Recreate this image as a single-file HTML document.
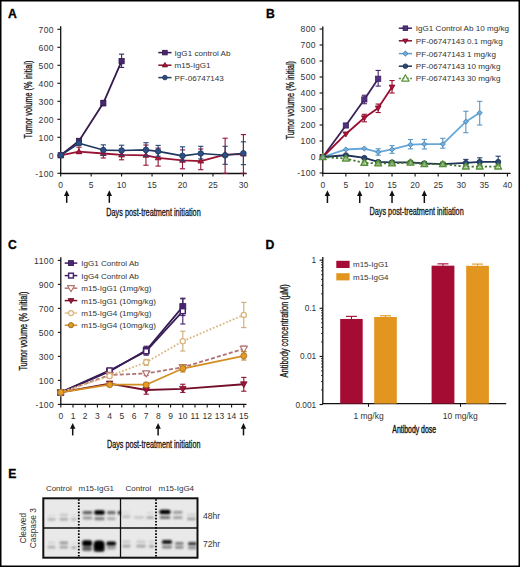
<!DOCTYPE html>
<html><head><meta charset="utf-8"><style>
html,body{margin:0;padding:0;background:#fff;}
body{width:520px;height:567px;overflow:hidden;font-family:"Liberation Sans", sans-serif;}
svg{display:block;}
</style></head><body>
<svg width="520" height="567" viewBox="0 0 520 567" font-family='"Liberation Sans", sans-serif'><text x="7.90" y="17.60" font-size="12.2" text-anchor="start" fill="#000" font-weight="bold" stroke="#000" stroke-width="0.3">A</text>
<line x1="60.70" y1="26.20" x2="60.70" y2="174.10" stroke="#111" stroke-width="1.3" />
<line x1="60.10" y1="173.50" x2="246.70" y2="173.50" stroke="#111" stroke-width="1.3" />
<line x1="57.40" y1="173.30" x2="60.70" y2="173.30" stroke="#111" stroke-width="1.1" />
<text x="54.00" y="176.60" font-size="8.6" text-anchor="end" fill="#333" font-weight="normal" letter-spacing="0.4">-100</text>
<line x1="57.40" y1="155.30" x2="60.70" y2="155.30" stroke="#111" stroke-width="1.1" />
<text x="54.00" y="158.60" font-size="8.6" text-anchor="end" fill="#333" font-weight="normal" letter-spacing="0.4">0</text>
<line x1="57.40" y1="137.30" x2="60.70" y2="137.30" stroke="#111" stroke-width="1.1" />
<text x="54.00" y="140.60" font-size="8.6" text-anchor="end" fill="#333" font-weight="normal" letter-spacing="0.4">100</text>
<line x1="57.40" y1="119.30" x2="60.70" y2="119.30" stroke="#111" stroke-width="1.1" />
<text x="54.00" y="122.60" font-size="8.6" text-anchor="end" fill="#333" font-weight="normal" letter-spacing="0.4">200</text>
<line x1="57.40" y1="101.30" x2="60.70" y2="101.30" stroke="#111" stroke-width="1.1" />
<text x="54.00" y="104.60" font-size="8.6" text-anchor="end" fill="#333" font-weight="normal" letter-spacing="0.4">300</text>
<line x1="57.40" y1="83.30" x2="60.70" y2="83.30" stroke="#111" stroke-width="1.1" />
<text x="54.00" y="86.60" font-size="8.6" text-anchor="end" fill="#333" font-weight="normal" letter-spacing="0.4">400</text>
<line x1="57.40" y1="65.30" x2="60.70" y2="65.30" stroke="#111" stroke-width="1.1" />
<text x="54.00" y="68.60" font-size="8.6" text-anchor="end" fill="#333" font-weight="normal" letter-spacing="0.4">500</text>
<line x1="57.40" y1="47.30" x2="60.70" y2="47.30" stroke="#111" stroke-width="1.1" />
<text x="54.00" y="50.60" font-size="8.6" text-anchor="end" fill="#333" font-weight="normal" letter-spacing="0.4">600</text>
<line x1="57.40" y1="29.30" x2="60.70" y2="29.30" stroke="#111" stroke-width="1.1" />
<text x="54.00" y="32.60" font-size="8.6" text-anchor="end" fill="#333" font-weight="normal" letter-spacing="0.4">700</text>
<line x1="60.70" y1="173.50" x2="60.70" y2="176.60" stroke="#111" stroke-width="1.1" />
<text x="60.70" y="187.80" font-size="8.5" text-anchor="middle" fill="#333" font-weight="normal" >0</text>
<line x1="91.15" y1="173.50" x2="91.15" y2="176.60" stroke="#111" stroke-width="1.1" />
<text x="91.15" y="187.80" font-size="8.5" text-anchor="middle" fill="#333" font-weight="normal" >5</text>
<line x1="121.60" y1="173.50" x2="121.60" y2="176.60" stroke="#111" stroke-width="1.1" />
<text x="121.60" y="187.80" font-size="8.5" text-anchor="middle" fill="#333" font-weight="normal" >10</text>
<line x1="152.05" y1="173.50" x2="152.05" y2="176.60" stroke="#111" stroke-width="1.1" />
<text x="152.05" y="187.80" font-size="8.5" text-anchor="middle" fill="#333" font-weight="normal" >15</text>
<line x1="182.50" y1="173.50" x2="182.50" y2="176.60" stroke="#111" stroke-width="1.1" />
<text x="182.50" y="187.80" font-size="8.5" text-anchor="middle" fill="#333" font-weight="normal" >20</text>
<line x1="212.95" y1="173.50" x2="212.95" y2="176.60" stroke="#111" stroke-width="1.1" />
<text x="212.95" y="187.80" font-size="8.5" text-anchor="middle" fill="#333" font-weight="normal" >25</text>
<line x1="243.40" y1="173.50" x2="243.40" y2="176.60" stroke="#111" stroke-width="1.1" />
<text x="243.40" y="187.80" font-size="8.5" text-anchor="middle" fill="#333" font-weight="normal" >30</text>
<line x1="66.69" y1="194.30" x2="66.69" y2="202.80" stroke="#111" stroke-width="1.5" />
<path d="M66.69,190.30 L69.39,196.10 L63.99,196.10 Z" fill="#111"/>
<line x1="109.32" y1="194.30" x2="109.32" y2="202.80" stroke="#111" stroke-width="1.5" />
<path d="M109.32,190.30 L112.02,196.10 L106.62,196.10 Z" fill="#111"/>
<text x="106.30" y="215.50" font-size="10.3" text-anchor="start" fill="#111" font-weight="normal" textLength="94.4" lengthAdjust="spacingAndGlyphs" stroke="#1a1a1a" stroke-width="0.3">Days post-treatment initiation</text>
<text x="32.10" y="138.40" font-size="10.3" text-anchor="start" fill="#111" font-weight="normal" textLength="77.8" lengthAdjust="spacingAndGlyphs" transform="rotate(-90 32.10 138.40)" stroke="#1a1a1a" stroke-width="0.3">Tumor volume (% initial)</text>
<path d="M60.70,155.30 L78.97,140.90 L103.33,103.10 L121.60,61.16" fill="none" stroke="#351a50" stroke-width="1.8" stroke-linejoin="round"/>
<line x1="78.97" y1="143.60" x2="78.97" y2="138.74" stroke="#3e1f5f" stroke-width="1.1" />
<line x1="76.37" y1="138.74" x2="81.57" y2="138.74" stroke="#3e1f5f" stroke-width="1.1" />
<line x1="76.37" y1="143.60" x2="81.57" y2="143.60" stroke="#3e1f5f" stroke-width="1.1" />
<line x1="103.33" y1="105.80" x2="103.33" y2="100.40" stroke="#3e1f5f" stroke-width="1.1" />
<line x1="100.73" y1="100.40" x2="105.93" y2="100.40" stroke="#3e1f5f" stroke-width="1.1" />
<line x1="100.73" y1="105.80" x2="105.93" y2="105.80" stroke="#3e1f5f" stroke-width="1.1" />
<line x1="121.60" y1="67.46" x2="121.60" y2="54.14" stroke="#3e1f5f" stroke-width="1.1" />
<line x1="119.00" y1="54.14" x2="124.20" y2="54.14" stroke="#3e1f5f" stroke-width="1.1" />
<line x1="119.00" y1="67.46" x2="124.20" y2="67.46" stroke="#3e1f5f" stroke-width="1.1" />
<rect x="58.10" y="152.70" width="5.20" height="5.20" fill="#4a2570" stroke="#33194e" stroke-width="0.8"/>
<rect x="76.37" y="138.30" width="5.20" height="5.20" fill="#4a2570" stroke="#33194e" stroke-width="0.8"/>
<rect x="100.73" y="100.50" width="5.20" height="5.20" fill="#4a2570" stroke="#33194e" stroke-width="0.8"/>
<rect x="119.00" y="58.56" width="5.20" height="5.20" fill="#4a2570" stroke="#33194e" stroke-width="0.8"/>
<path d="M60.70,155.30 L78.97,151.70 L103.33,153.50 L121.60,154.94 L145.96,155.30 L158.14,157.82 L182.50,160.34 L200.77,161.06 L225.13,154.58 L243.40,154.04" fill="none" stroke="#9a1334" stroke-width="1.8" stroke-linejoin="round"/>
<line x1="78.97" y1="153.50" x2="78.97" y2="147.20" stroke="#951233" stroke-width="1.1" />
<line x1="76.37" y1="147.20" x2="81.57" y2="147.20" stroke="#951233" stroke-width="1.1" />
<line x1="76.37" y1="153.50" x2="81.57" y2="153.50" stroke="#951233" stroke-width="1.1" />
<line x1="103.33" y1="158.00" x2="103.33" y2="149.90" stroke="#951233" stroke-width="1.1" />
<line x1="100.73" y1="149.90" x2="105.93" y2="149.90" stroke="#951233" stroke-width="1.1" />
<line x1="100.73" y1="158.00" x2="105.93" y2="158.00" stroke="#951233" stroke-width="1.1" />
<line x1="121.60" y1="159.80" x2="121.60" y2="150.80" stroke="#951233" stroke-width="1.1" />
<line x1="119.00" y1="150.80" x2="124.20" y2="150.80" stroke="#951233" stroke-width="1.1" />
<line x1="119.00" y1="159.80" x2="124.20" y2="159.80" stroke="#951233" stroke-width="1.1" />
<line x1="145.96" y1="165.20" x2="145.96" y2="145.04" stroke="#951233" stroke-width="1.1" />
<line x1="143.36" y1="145.04" x2="148.56" y2="145.04" stroke="#951233" stroke-width="1.1" />
<line x1="143.36" y1="165.20" x2="148.56" y2="165.20" stroke="#951233" stroke-width="1.1" />
<line x1="158.14" y1="166.10" x2="158.14" y2="148.10" stroke="#951233" stroke-width="1.1" />
<line x1="155.54" y1="148.10" x2="160.74" y2="148.10" stroke="#951233" stroke-width="1.1" />
<line x1="155.54" y1="166.10" x2="160.74" y2="166.10" stroke="#951233" stroke-width="1.1" />
<line x1="182.50" y1="168.80" x2="182.50" y2="149.90" stroke="#951233" stroke-width="1.1" />
<line x1="179.90" y1="149.90" x2="185.10" y2="149.90" stroke="#951233" stroke-width="1.1" />
<line x1="179.90" y1="168.80" x2="185.10" y2="168.80" stroke="#951233" stroke-width="1.1" />
<line x1="200.77" y1="169.70" x2="200.77" y2="149.00" stroke="#951233" stroke-width="1.1" />
<line x1="198.17" y1="149.00" x2="203.37" y2="149.00" stroke="#951233" stroke-width="1.1" />
<line x1="198.17" y1="169.70" x2="203.37" y2="169.70" stroke="#951233" stroke-width="1.1" />
<line x1="225.13" y1="173.30" x2="225.13" y2="138.20" stroke="#951233" stroke-width="1.1" />
<line x1="222.53" y1="138.20" x2="227.73" y2="138.20" stroke="#951233" stroke-width="1.1" />
<line x1="222.53" y1="173.30" x2="227.73" y2="173.30" stroke="#951233" stroke-width="1.1" />
<line x1="243.40" y1="173.30" x2="243.40" y2="134.60" stroke="#951233" stroke-width="1.1" />
<line x1="240.80" y1="134.60" x2="246.00" y2="134.60" stroke="#951233" stroke-width="1.1" />
<line x1="240.80" y1="173.30" x2="246.00" y2="173.30" stroke="#951233" stroke-width="1.1" />
<path d="M60.70,152.30 L63.60,157.30 L57.80,157.30 Z" fill="#b0163c" stroke="#7b0f2a" stroke-width="0.8" stroke-linejoin="round"/>
<path d="M78.97,148.70 L81.87,153.70 L76.07,153.70 Z" fill="#b0163c" stroke="#7b0f2a" stroke-width="0.8" stroke-linejoin="round"/>
<path d="M103.33,150.50 L106.23,155.50 L100.43,155.50 Z" fill="#b0163c" stroke="#7b0f2a" stroke-width="0.8" stroke-linejoin="round"/>
<path d="M121.60,151.94 L124.50,156.94 L118.70,156.94 Z" fill="#b0163c" stroke="#7b0f2a" stroke-width="0.8" stroke-linejoin="round"/>
<path d="M145.96,152.30 L148.86,157.30 L143.06,157.30 Z" fill="#b0163c" stroke="#7b0f2a" stroke-width="0.8" stroke-linejoin="round"/>
<path d="M158.14,154.82 L161.04,159.82 L155.24,159.82 Z" fill="#b0163c" stroke="#7b0f2a" stroke-width="0.8" stroke-linejoin="round"/>
<path d="M182.50,157.34 L185.40,162.34 L179.60,162.34 Z" fill="#b0163c" stroke="#7b0f2a" stroke-width="0.8" stroke-linejoin="round"/>
<path d="M200.77,158.06 L203.67,163.06 L197.87,163.06 Z" fill="#b0163c" stroke="#7b0f2a" stroke-width="0.8" stroke-linejoin="round"/>
<path d="M225.13,151.58 L228.03,156.58 L222.23,156.58 Z" fill="#b0163c" stroke="#7b0f2a" stroke-width="0.8" stroke-linejoin="round"/>
<path d="M243.40,151.04 L246.30,156.04 L240.50,156.04 Z" fill="#b0163c" stroke="#7b0f2a" stroke-width="0.8" stroke-linejoin="round"/>
<path d="M60.70,155.30 L78.97,143.24 L103.33,150.08 L121.60,150.44 L145.96,149.90 L158.14,151.34 L182.50,155.84 L200.77,153.50 L225.13,155.30 L243.40,153.32" fill="none" stroke="#203860" stroke-width="1.6" stroke-linejoin="round"/>
<line x1="78.97" y1="145.40" x2="78.97" y2="140.90" stroke="#264371" stroke-width="1.1" />
<line x1="76.37" y1="140.90" x2="81.57" y2="140.90" stroke="#264371" stroke-width="1.1" />
<line x1="76.37" y1="145.40" x2="81.57" y2="145.40" stroke="#264371" stroke-width="1.1" />
<line x1="103.33" y1="155.30" x2="103.33" y2="144.86" stroke="#264371" stroke-width="1.1" />
<line x1="100.73" y1="144.86" x2="105.93" y2="144.86" stroke="#264371" stroke-width="1.1" />
<line x1="100.73" y1="155.30" x2="105.93" y2="155.30" stroke="#264371" stroke-width="1.1" />
<line x1="121.60" y1="155.30" x2="121.60" y2="145.22" stroke="#264371" stroke-width="1.1" />
<line x1="119.00" y1="145.22" x2="124.20" y2="145.22" stroke="#264371" stroke-width="1.1" />
<line x1="119.00" y1="155.30" x2="124.20" y2="155.30" stroke="#264371" stroke-width="1.1" />
<line x1="145.96" y1="156.20" x2="145.96" y2="142.70" stroke="#264371" stroke-width="1.1" />
<line x1="143.36" y1="142.70" x2="148.56" y2="142.70" stroke="#264371" stroke-width="1.1" />
<line x1="143.36" y1="156.20" x2="148.56" y2="156.20" stroke="#264371" stroke-width="1.1" />
<line x1="158.14" y1="156.20" x2="158.14" y2="145.40" stroke="#264371" stroke-width="1.1" />
<line x1="155.54" y1="145.40" x2="160.74" y2="145.40" stroke="#264371" stroke-width="1.1" />
<line x1="155.54" y1="156.20" x2="160.74" y2="156.20" stroke="#264371" stroke-width="1.1" />
<line x1="182.50" y1="160.70" x2="182.50" y2="146.84" stroke="#264371" stroke-width="1.1" />
<line x1="179.90" y1="146.84" x2="185.10" y2="146.84" stroke="#264371" stroke-width="1.1" />
<line x1="179.90" y1="160.70" x2="185.10" y2="160.70" stroke="#264371" stroke-width="1.1" />
<line x1="200.77" y1="158.90" x2="200.77" y2="146.30" stroke="#264371" stroke-width="1.1" />
<line x1="198.17" y1="146.30" x2="203.37" y2="146.30" stroke="#264371" stroke-width="1.1" />
<line x1="198.17" y1="158.90" x2="203.37" y2="158.90" stroke="#264371" stroke-width="1.1" />
<line x1="225.13" y1="164.30" x2="225.13" y2="146.30" stroke="#264371" stroke-width="1.1" />
<line x1="222.53" y1="146.30" x2="227.73" y2="146.30" stroke="#264371" stroke-width="1.1" />
<line x1="222.53" y1="164.30" x2="227.73" y2="164.30" stroke="#264371" stroke-width="1.1" />
<line x1="243.40" y1="164.66" x2="243.40" y2="141.80" stroke="#264371" stroke-width="1.1" />
<line x1="240.80" y1="141.80" x2="246.00" y2="141.80" stroke="#264371" stroke-width="1.1" />
<line x1="240.80" y1="164.66" x2="246.00" y2="164.66" stroke="#264371" stroke-width="1.1" />
<circle cx="60.70" cy="155.30" r="2.80" fill="#2d4f86" stroke="#1f375d" stroke-width="0.8"/>
<circle cx="78.97" cy="143.24" r="2.80" fill="#2d4f86" stroke="#1f375d" stroke-width="0.8"/>
<circle cx="103.33" cy="150.08" r="2.80" fill="#2d4f86" stroke="#1f375d" stroke-width="0.8"/>
<circle cx="121.60" cy="150.44" r="2.80" fill="#2d4f86" stroke="#1f375d" stroke-width="0.8"/>
<circle cx="145.96" cy="149.90" r="2.80" fill="#2d4f86" stroke="#1f375d" stroke-width="0.8"/>
<circle cx="158.14" cy="151.34" r="2.80" fill="#2d4f86" stroke="#1f375d" stroke-width="0.8"/>
<circle cx="182.50" cy="155.84" r="2.80" fill="#2d4f86" stroke="#1f375d" stroke-width="0.8"/>
<circle cx="200.77" cy="153.50" r="2.80" fill="#2d4f86" stroke="#1f375d" stroke-width="0.8"/>
<circle cx="225.13" cy="155.30" r="2.80" fill="#2d4f86" stroke="#1f375d" stroke-width="0.8"/>
<circle cx="243.40" cy="153.32" r="2.80" fill="#2d4f86" stroke="#1f375d" stroke-width="0.8"/>
<line x1="158.3" y1="52.6" x2="171.5" y2="52.6" stroke="#391c57" stroke-width="1.5"/>
<rect x="162.60" y="50.30" width="4.60" height="4.60" fill="#4a2570" stroke="#2c1643" stroke-width="0.8"/>
<text x="174.60" y="55.50" font-size="8.1" text-anchor="start" fill="#333" font-weight="normal" >IgG1 control Ab</text>
<line x1="158.3" y1="65.2" x2="171.5" y2="65.2" stroke="#89112e" stroke-width="1.5"/>
<path d="M164.90,62.50 L167.50,66.90 L162.30,66.90 Z" fill="#b0163c" stroke="#690d24" stroke-width="0.8" stroke-linejoin="round"/>
<text x="174.60" y="68.10" font-size="8.1" text-anchor="start" fill="#333" font-weight="normal" >m15-IgG1</text>
<line x1="158.3" y1="77.6" x2="171.5" y2="77.6" stroke="#233d68" stroke-width="1.5"/>
<circle cx="164.90" cy="77.60" r="2.30" fill="#2d4f86" stroke="#1b2f50" stroke-width="0.8"/>
<text x="174.60" y="80.50" font-size="8.1" text-anchor="start" fill="#333" font-weight="normal" >PF-06747143</text>
<text x="265.90" y="17.60" font-size="12.2" text-anchor="start" fill="#000" font-weight="bold" stroke="#000" stroke-width="0.3">B</text>
<line x1="322.80" y1="26.50" x2="322.80" y2="173.90" stroke="#111" stroke-width="1.3" />
<line x1="322.20" y1="173.30" x2="510.60" y2="173.30" stroke="#111" stroke-width="1.3" />
<line x1="319.60" y1="173.00" x2="322.80" y2="173.00" stroke="#111" stroke-width="1.1" />
<text x="316.00" y="176.30" font-size="8.6" text-anchor="end" fill="#333" font-weight="normal" letter-spacing="0.4">-100</text>
<line x1="319.60" y1="157.00" x2="322.80" y2="157.00" stroke="#111" stroke-width="1.1" />
<text x="316.00" y="160.30" font-size="8.6" text-anchor="end" fill="#333" font-weight="normal" letter-spacing="0.4">0</text>
<line x1="319.60" y1="141.00" x2="322.80" y2="141.00" stroke="#111" stroke-width="1.1" />
<text x="316.00" y="144.30" font-size="8.6" text-anchor="end" fill="#333" font-weight="normal" letter-spacing="0.4">100</text>
<line x1="319.60" y1="125.00" x2="322.80" y2="125.00" stroke="#111" stroke-width="1.1" />
<text x="316.00" y="128.30" font-size="8.6" text-anchor="end" fill="#333" font-weight="normal" letter-spacing="0.4">200</text>
<line x1="319.60" y1="109.00" x2="322.80" y2="109.00" stroke="#111" stroke-width="1.1" />
<text x="316.00" y="112.30" font-size="8.6" text-anchor="end" fill="#333" font-weight="normal" letter-spacing="0.4">300</text>
<line x1="319.60" y1="93.00" x2="322.80" y2="93.00" stroke="#111" stroke-width="1.1" />
<text x="316.00" y="96.30" font-size="8.6" text-anchor="end" fill="#333" font-weight="normal" letter-spacing="0.4">400</text>
<line x1="319.60" y1="77.00" x2="322.80" y2="77.00" stroke="#111" stroke-width="1.1" />
<text x="316.00" y="80.30" font-size="8.6" text-anchor="end" fill="#333" font-weight="normal" letter-spacing="0.4">500</text>
<line x1="319.60" y1="61.00" x2="322.80" y2="61.00" stroke="#111" stroke-width="1.1" />
<text x="316.00" y="64.30" font-size="8.6" text-anchor="end" fill="#333" font-weight="normal" letter-spacing="0.4">600</text>
<line x1="319.60" y1="45.00" x2="322.80" y2="45.00" stroke="#111" stroke-width="1.1" />
<text x="316.00" y="48.30" font-size="8.6" text-anchor="end" fill="#333" font-weight="normal" letter-spacing="0.4">700</text>
<line x1="319.60" y1="29.00" x2="322.80" y2="29.00" stroke="#111" stroke-width="1.1" />
<text x="316.00" y="32.30" font-size="8.6" text-anchor="end" fill="#333" font-weight="normal" letter-spacing="0.4">800</text>
<line x1="322.80" y1="173.30" x2="322.80" y2="176.40" stroke="#111" stroke-width="1.1" />
<text x="322.80" y="187.60" font-size="8.5" text-anchor="middle" fill="#333" font-weight="normal" >0</text>
<line x1="345.88" y1="173.30" x2="345.88" y2="176.40" stroke="#111" stroke-width="1.1" />
<text x="345.88" y="187.60" font-size="8.5" text-anchor="middle" fill="#333" font-weight="normal" >5</text>
<line x1="368.95" y1="173.30" x2="368.95" y2="176.40" stroke="#111" stroke-width="1.1" />
<text x="368.95" y="187.60" font-size="8.5" text-anchor="middle" fill="#333" font-weight="normal" >10</text>
<line x1="392.03" y1="173.30" x2="392.03" y2="176.40" stroke="#111" stroke-width="1.1" />
<text x="392.03" y="187.60" font-size="8.5" text-anchor="middle" fill="#333" font-weight="normal" >15</text>
<line x1="415.10" y1="173.30" x2="415.10" y2="176.40" stroke="#111" stroke-width="1.1" />
<text x="415.10" y="187.60" font-size="8.5" text-anchor="middle" fill="#333" font-weight="normal" >20</text>
<line x1="438.18" y1="173.30" x2="438.18" y2="176.40" stroke="#111" stroke-width="1.1" />
<text x="438.18" y="187.60" font-size="8.5" text-anchor="middle" fill="#333" font-weight="normal" >25</text>
<line x1="461.25" y1="173.30" x2="461.25" y2="176.40" stroke="#111" stroke-width="1.1" />
<text x="461.25" y="187.60" font-size="8.5" text-anchor="middle" fill="#333" font-weight="normal" >30</text>
<line x1="484.33" y1="173.30" x2="484.33" y2="176.40" stroke="#111" stroke-width="1.1" />
<text x="484.33" y="187.60" font-size="8.5" text-anchor="middle" fill="#333" font-weight="normal" >35</text>
<line x1="507.40" y1="173.30" x2="507.40" y2="176.40" stroke="#111" stroke-width="1.1" />
<text x="507.40" y="187.60" font-size="8.5" text-anchor="middle" fill="#333" font-weight="normal" >40</text>
<line x1="327.42" y1="194.30" x2="327.42" y2="203.00" stroke="#111" stroke-width="1.5" />
<path d="M327.42,190.30 L330.12,196.10 L324.72,196.10 Z" fill="#111"/>
<line x1="359.72" y1="194.30" x2="359.72" y2="203.00" stroke="#111" stroke-width="1.5" />
<path d="M359.72,190.30 L362.42,196.10 L357.02,196.10 Z" fill="#111"/>
<line x1="392.03" y1="194.30" x2="392.03" y2="203.00" stroke="#111" stroke-width="1.5" />
<path d="M392.03,190.30 L394.73,196.10 L389.33,196.10 Z" fill="#111"/>
<line x1="424.33" y1="194.30" x2="424.33" y2="203.00" stroke="#111" stroke-width="1.5" />
<path d="M424.33,190.30 L427.03,196.10 L421.63,196.10 Z" fill="#111"/>
<text x="369.50" y="215.30" font-size="10.3" text-anchor="start" fill="#111" font-weight="normal" textLength="94.2" lengthAdjust="spacingAndGlyphs" stroke="#1a1a1a" stroke-width="0.3">Days post-treatment initiation</text>
<text x="294.40" y="139.40" font-size="10.3" text-anchor="start" fill="#111" font-weight="normal" textLength="78.4" lengthAdjust="spacingAndGlyphs" transform="rotate(-90 294.40 139.40)" stroke="#1a1a1a" stroke-width="0.3">Tumor volume (% initial)</text>
<path d="M322.80,157.00 L345.88,125.48 L364.34,99.40 L378.18,78.76" fill="none" stroke="#3b225b" stroke-width="1.8" stroke-linejoin="round"/>
<line x1="364.34" y1="103.72" x2="364.34" y2="95.24" stroke="#45286b" stroke-width="1.1" />
<line x1="361.74" y1="95.24" x2="366.94" y2="95.24" stroke="#45286b" stroke-width="1.1" />
<line x1="361.74" y1="103.72" x2="366.94" y2="103.72" stroke="#45286b" stroke-width="1.1" />
<line x1="378.18" y1="86.12" x2="378.18" y2="70.44" stroke="#45286b" stroke-width="1.1" />
<line x1="375.58" y1="70.44" x2="380.78" y2="70.44" stroke="#45286b" stroke-width="1.1" />
<line x1="375.58" y1="86.12" x2="380.78" y2="86.12" stroke="#45286b" stroke-width="1.1" />
<rect x="320.20" y="154.40" width="5.20" height="5.20" fill="#52307f" stroke="#392158" stroke-width="0.8"/>
<rect x="343.27" y="122.88" width="5.20" height="5.20" fill="#52307f" stroke="#392158" stroke-width="0.8"/>
<rect x="361.74" y="96.80" width="5.20" height="5.20" fill="#52307f" stroke="#392158" stroke-width="0.8"/>
<rect x="375.58" y="76.16" width="5.20" height="5.20" fill="#52307f" stroke="#392158" stroke-width="0.8"/>
<path d="M322.80,157.00 L345.88,133.96 L364.34,117.80 L378.18,108.04 L392.03,87.08" fill="none" stroke="#980f31" stroke-width="1.8" stroke-linejoin="round"/>
<line x1="364.34" y1="121.80" x2="364.34" y2="114.28" stroke="#980f31" stroke-width="1.1" />
<line x1="361.74" y1="114.28" x2="366.94" y2="114.28" stroke="#980f31" stroke-width="1.1" />
<line x1="361.74" y1="121.80" x2="366.94" y2="121.80" stroke="#980f31" stroke-width="1.1" />
<line x1="378.18" y1="112.52" x2="378.18" y2="104.04" stroke="#980f31" stroke-width="1.1" />
<line x1="375.58" y1="104.04" x2="380.78" y2="104.04" stroke="#980f31" stroke-width="1.1" />
<line x1="375.58" y1="112.52" x2="380.78" y2="112.52" stroke="#980f31" stroke-width="1.1" />
<line x1="392.03" y1="93.00" x2="392.03" y2="80.52" stroke="#980f31" stroke-width="1.1" />
<line x1="389.43" y1="80.52" x2="394.63" y2="80.52" stroke="#980f31" stroke-width="1.1" />
<line x1="389.43" y1="93.00" x2="394.63" y2="93.00" stroke="#980f31" stroke-width="1.1" />
<path d="M322.80,160.00 L325.70,155.00 L319.90,155.00 Z" fill="#b3123a" stroke="#7d0c28" stroke-width="0.8" stroke-linejoin="round"/>
<path d="M345.88,136.96 L348.78,131.96 L342.97,131.96 Z" fill="#b3123a" stroke="#7d0c28" stroke-width="0.8" stroke-linejoin="round"/>
<path d="M364.34,120.80 L367.24,115.80 L361.44,115.80 Z" fill="#b3123a" stroke="#7d0c28" stroke-width="0.8" stroke-linejoin="round"/>
<path d="M378.18,111.04 L381.08,106.04 L375.28,106.04 Z" fill="#b3123a" stroke="#7d0c28" stroke-width="0.8" stroke-linejoin="round"/>
<path d="M392.03,90.08 L394.93,85.08 L389.12,85.08 Z" fill="#b3123a" stroke="#7d0c28" stroke-width="0.8" stroke-linejoin="round"/>
<path d="M322.80,157.00 L345.88,149.48 L364.34,148.52 L378.18,152.04 L392.03,149.48 L410.49,144.68 L424.33,144.20 L442.79,144.04 L465.87,121.64 L479.71,112.84" fill="none" stroke="#66a7da" stroke-width="1.8" stroke-linejoin="round"/>
<line x1="378.18" y1="155.24" x2="378.18" y2="148.84" stroke="#5b95c3" stroke-width="1.1" />
<line x1="375.58" y1="148.84" x2="380.78" y2="148.84" stroke="#5b95c3" stroke-width="1.1" />
<line x1="375.58" y1="155.24" x2="380.78" y2="155.24" stroke="#5b95c3" stroke-width="1.1" />
<line x1="392.03" y1="153.32" x2="392.03" y2="145.64" stroke="#5b95c3" stroke-width="1.1" />
<line x1="389.43" y1="145.64" x2="394.63" y2="145.64" stroke="#5b95c3" stroke-width="1.1" />
<line x1="389.43" y1="153.32" x2="394.63" y2="153.32" stroke="#5b95c3" stroke-width="1.1" />
<line x1="410.49" y1="148.84" x2="410.49" y2="139.56" stroke="#5b95c3" stroke-width="1.1" />
<line x1="407.88" y1="139.56" x2="413.09" y2="139.56" stroke="#5b95c3" stroke-width="1.1" />
<line x1="407.88" y1="148.84" x2="413.09" y2="148.84" stroke="#5b95c3" stroke-width="1.1" />
<line x1="424.33" y1="149.00" x2="424.33" y2="139.40" stroke="#5b95c3" stroke-width="1.1" />
<line x1="421.73" y1="139.40" x2="426.93" y2="139.40" stroke="#5b95c3" stroke-width="1.1" />
<line x1="421.73" y1="149.00" x2="426.93" y2="149.00" stroke="#5b95c3" stroke-width="1.1" />
<line x1="442.79" y1="148.20" x2="442.79" y2="138.28" stroke="#5b95c3" stroke-width="1.1" />
<line x1="440.19" y1="138.28" x2="445.39" y2="138.28" stroke="#5b95c3" stroke-width="1.1" />
<line x1="440.19" y1="148.20" x2="445.39" y2="148.20" stroke="#5b95c3" stroke-width="1.1" />
<line x1="465.87" y1="132.68" x2="465.87" y2="111.24" stroke="#5b95c3" stroke-width="1.1" />
<line x1="463.26" y1="111.24" x2="468.47" y2="111.24" stroke="#5b95c3" stroke-width="1.1" />
<line x1="463.26" y1="132.68" x2="468.47" y2="132.68" stroke="#5b95c3" stroke-width="1.1" />
<line x1="479.71" y1="125.00" x2="479.71" y2="101.32" stroke="#5b95c3" stroke-width="1.1" />
<line x1="477.11" y1="101.32" x2="482.31" y2="101.32" stroke="#5b95c3" stroke-width="1.1" />
<line x1="477.11" y1="125.00" x2="482.31" y2="125.00" stroke="#5b95c3" stroke-width="1.1" />
<path d="M322.80,154.40 L325.40,157.00 L322.80,159.60 L320.20,157.00 Z" fill="#6cb0e6" stroke="#4b7ba1" stroke-width="0.8"/>
<path d="M345.88,146.88 L348.48,149.48 L345.88,152.08 L343.27,149.48 Z" fill="#6cb0e6" stroke="#4b7ba1" stroke-width="0.8"/>
<path d="M364.34,145.92 L366.94,148.52 L364.34,151.12 L361.74,148.52 Z" fill="#6cb0e6" stroke="#4b7ba1" stroke-width="0.8"/>
<path d="M378.18,149.44 L380.78,152.04 L378.18,154.64 L375.58,152.04 Z" fill="#6cb0e6" stroke="#4b7ba1" stroke-width="0.8"/>
<path d="M392.03,146.88 L394.63,149.48 L392.03,152.08 L389.43,149.48 Z" fill="#6cb0e6" stroke="#4b7ba1" stroke-width="0.8"/>
<path d="M410.49,142.08 L413.09,144.68 L410.49,147.28 L407.88,144.68 Z" fill="#6cb0e6" stroke="#4b7ba1" stroke-width="0.8"/>
<path d="M424.33,141.60 L426.93,144.20 L424.33,146.80 L421.73,144.20 Z" fill="#6cb0e6" stroke="#4b7ba1" stroke-width="0.8"/>
<path d="M442.79,141.44 L445.39,144.04 L442.79,146.64 L440.19,144.04 Z" fill="#6cb0e6" stroke="#4b7ba1" stroke-width="0.8"/>
<path d="M465.87,119.04 L468.47,121.64 L465.87,124.24 L463.26,121.64 Z" fill="#6cb0e6" stroke="#4b7ba1" stroke-width="0.8"/>
<path d="M479.71,110.24 L482.31,112.84 L479.71,115.44 L477.11,112.84 Z" fill="#6cb0e6" stroke="#4b7ba1" stroke-width="0.8"/>
<path d="M322.80,157.00 L345.88,155.24 L364.34,157.96 L378.18,161.96 L392.03,162.44 L410.49,162.28 L424.33,163.40 L442.79,164.04 L465.87,162.92 L479.71,161.96 L498.17,161.96" fill="none" stroke="#1e3355" stroke-width="1.8" stroke-linejoin="round"/>
<line x1="378.18" y1="163.40" x2="378.18" y2="160.52" stroke="#243c65" stroke-width="1.1" />
<line x1="375.58" y1="160.52" x2="380.78" y2="160.52" stroke="#243c65" stroke-width="1.1" />
<line x1="375.58" y1="163.40" x2="380.78" y2="163.40" stroke="#243c65" stroke-width="1.1" />
<line x1="392.03" y1="164.04" x2="392.03" y2="160.84" stroke="#243c65" stroke-width="1.1" />
<line x1="389.43" y1="160.84" x2="394.63" y2="160.84" stroke="#243c65" stroke-width="1.1" />
<line x1="389.43" y1="164.04" x2="394.63" y2="164.04" stroke="#243c65" stroke-width="1.1" />
<line x1="410.49" y1="163.88" x2="410.49" y2="160.68" stroke="#243c65" stroke-width="1.1" />
<line x1="407.88" y1="160.68" x2="413.09" y2="160.68" stroke="#243c65" stroke-width="1.1" />
<line x1="407.88" y1="163.88" x2="413.09" y2="163.88" stroke="#243c65" stroke-width="1.1" />
<line x1="424.33" y1="165.00" x2="424.33" y2="161.80" stroke="#243c65" stroke-width="1.1" />
<line x1="421.73" y1="161.80" x2="426.93" y2="161.80" stroke="#243c65" stroke-width="1.1" />
<line x1="421.73" y1="165.00" x2="426.93" y2="165.00" stroke="#243c65" stroke-width="1.1" />
<line x1="442.79" y1="165.64" x2="442.79" y2="162.44" stroke="#243c65" stroke-width="1.1" />
<line x1="440.19" y1="162.44" x2="445.39" y2="162.44" stroke="#243c65" stroke-width="1.1" />
<line x1="440.19" y1="165.64" x2="445.39" y2="165.64" stroke="#243c65" stroke-width="1.1" />
<line x1="465.87" y1="165.80" x2="465.87" y2="159.40" stroke="#243c65" stroke-width="1.1" />
<line x1="463.26" y1="159.40" x2="468.47" y2="159.40" stroke="#243c65" stroke-width="1.1" />
<line x1="463.26" y1="165.80" x2="468.47" y2="165.80" stroke="#243c65" stroke-width="1.1" />
<line x1="479.71" y1="165.80" x2="479.71" y2="157.80" stroke="#243c65" stroke-width="1.1" />
<line x1="477.11" y1="157.80" x2="482.31" y2="157.80" stroke="#243c65" stroke-width="1.1" />
<line x1="477.11" y1="165.80" x2="482.31" y2="165.80" stroke="#243c65" stroke-width="1.1" />
<line x1="498.17" y1="165.80" x2="498.17" y2="156.20" stroke="#243c65" stroke-width="1.1" />
<line x1="495.57" y1="156.20" x2="500.77" y2="156.20" stroke="#243c65" stroke-width="1.1" />
<line x1="495.57" y1="165.80" x2="500.77" y2="165.80" stroke="#243c65" stroke-width="1.1" />
<circle cx="322.80" cy="157.00" r="2.60" fill="#2b4777" stroke="#1e3153" stroke-width="0.8"/>
<circle cx="345.88" cy="155.24" r="2.60" fill="#2b4777" stroke="#1e3153" stroke-width="0.8"/>
<circle cx="364.34" cy="157.96" r="2.60" fill="#2b4777" stroke="#1e3153" stroke-width="0.8"/>
<circle cx="378.18" cy="161.96" r="2.60" fill="#2b4777" stroke="#1e3153" stroke-width="0.8"/>
<circle cx="392.03" cy="162.44" r="2.60" fill="#2b4777" stroke="#1e3153" stroke-width="0.8"/>
<circle cx="410.49" cy="162.28" r="2.60" fill="#2b4777" stroke="#1e3153" stroke-width="0.8"/>
<circle cx="424.33" cy="163.40" r="2.60" fill="#2b4777" stroke="#1e3153" stroke-width="0.8"/>
<circle cx="442.79" cy="164.04" r="2.60" fill="#2b4777" stroke="#1e3153" stroke-width="0.8"/>
<circle cx="465.87" cy="162.92" r="2.60" fill="#2b4777" stroke="#1e3153" stroke-width="0.8"/>
<circle cx="479.71" cy="161.96" r="2.60" fill="#2b4777" stroke="#1e3153" stroke-width="0.8"/>
<circle cx="498.17" cy="161.96" r="2.60" fill="#2b4777" stroke="#1e3153" stroke-width="0.8"/>
<path d="M322.80,157.00 L345.88,158.60 L364.34,162.92 L378.18,163.40 L392.03,163.40 L410.49,162.60 L424.33,164.20 L442.79,164.20 L465.87,166.60 L479.71,166.60 L498.17,166.60" fill="none" stroke="#42702c" stroke-width="1.8" stroke-dasharray="2.2,2.2" stroke-linejoin="round"/>
<line x1="345.88" y1="160.20" x2="345.88" y2="157.00" stroke="#508835" stroke-width="1.1" />
<line x1="343.27" y1="157.00" x2="348.48" y2="157.00" stroke="#508835" stroke-width="1.1" />
<line x1="343.27" y1="160.20" x2="348.48" y2="160.20" stroke="#508835" stroke-width="1.1" />
<line x1="364.34" y1="164.68" x2="364.34" y2="161.16" stroke="#508835" stroke-width="1.1" />
<line x1="361.74" y1="161.16" x2="366.94" y2="161.16" stroke="#508835" stroke-width="1.1" />
<line x1="361.74" y1="164.68" x2="366.94" y2="164.68" stroke="#508835" stroke-width="1.1" />
<line x1="378.18" y1="165.32" x2="378.18" y2="161.48" stroke="#508835" stroke-width="1.1" />
<line x1="375.58" y1="161.48" x2="380.78" y2="161.48" stroke="#508835" stroke-width="1.1" />
<line x1="375.58" y1="165.32" x2="380.78" y2="165.32" stroke="#508835" stroke-width="1.1" />
<line x1="392.03" y1="165.32" x2="392.03" y2="161.48" stroke="#508835" stroke-width="1.1" />
<line x1="389.43" y1="161.48" x2="394.63" y2="161.48" stroke="#508835" stroke-width="1.1" />
<line x1="389.43" y1="165.32" x2="394.63" y2="165.32" stroke="#508835" stroke-width="1.1" />
<line x1="410.49" y1="164.52" x2="410.49" y2="160.68" stroke="#508835" stroke-width="1.1" />
<line x1="407.88" y1="160.68" x2="413.09" y2="160.68" stroke="#508835" stroke-width="1.1" />
<line x1="407.88" y1="164.52" x2="413.09" y2="164.52" stroke="#508835" stroke-width="1.1" />
<line x1="424.33" y1="166.12" x2="424.33" y2="162.28" stroke="#508835" stroke-width="1.1" />
<line x1="421.73" y1="162.28" x2="426.93" y2="162.28" stroke="#508835" stroke-width="1.1" />
<line x1="421.73" y1="166.12" x2="426.93" y2="166.12" stroke="#508835" stroke-width="1.1" />
<line x1="442.79" y1="166.12" x2="442.79" y2="162.28" stroke="#508835" stroke-width="1.1" />
<line x1="440.19" y1="162.28" x2="445.39" y2="162.28" stroke="#508835" stroke-width="1.1" />
<line x1="440.19" y1="166.12" x2="445.39" y2="166.12" stroke="#508835" stroke-width="1.1" />
<line x1="465.87" y1="168.52" x2="465.87" y2="164.68" stroke="#508835" stroke-width="1.1" />
<line x1="463.26" y1="164.68" x2="468.47" y2="164.68" stroke="#508835" stroke-width="1.1" />
<line x1="463.26" y1="168.52" x2="468.47" y2="168.52" stroke="#508835" stroke-width="1.1" />
<line x1="479.71" y1="168.52" x2="479.71" y2="164.68" stroke="#508835" stroke-width="1.1" />
<line x1="477.11" y1="164.68" x2="482.31" y2="164.68" stroke="#508835" stroke-width="1.1" />
<line x1="477.11" y1="168.52" x2="482.31" y2="168.52" stroke="#508835" stroke-width="1.1" />
<line x1="498.17" y1="168.52" x2="498.17" y2="164.68" stroke="#508835" stroke-width="1.1" />
<line x1="495.57" y1="164.68" x2="500.77" y2="164.68" stroke="#508835" stroke-width="1.1" />
<line x1="495.57" y1="168.52" x2="500.77" y2="168.52" stroke="#508835" stroke-width="1.1" />
<path d="M322.80,153.50 L326.30,159.50 L319.30,159.50 Z" fill="#cfe9b6" fill-opacity="0.55" stroke="#559038" stroke-width="1.25" stroke-linejoin="round"/>
<path d="M345.88,155.10 L349.38,161.10 L342.38,161.10 Z" fill="#cfe9b6" fill-opacity="0.55" stroke="#559038" stroke-width="1.25" stroke-linejoin="round"/>
<path d="M364.34,159.42 L367.84,165.42 L360.84,165.42 Z" fill="#cfe9b6" fill-opacity="0.55" stroke="#559038" stroke-width="1.25" stroke-linejoin="round"/>
<path d="M378.18,159.90 L381.68,165.90 L374.68,165.90 Z" fill="#cfe9b6" fill-opacity="0.55" stroke="#559038" stroke-width="1.25" stroke-linejoin="round"/>
<path d="M392.03,159.90 L395.53,165.90 L388.53,165.90 Z" fill="#cfe9b6" fill-opacity="0.55" stroke="#559038" stroke-width="1.25" stroke-linejoin="round"/>
<path d="M410.49,159.10 L413.99,165.10 L406.99,165.10 Z" fill="#cfe9b6" fill-opacity="0.55" stroke="#559038" stroke-width="1.25" stroke-linejoin="round"/>
<path d="M424.33,160.70 L427.83,166.70 L420.83,166.70 Z" fill="#cfe9b6" fill-opacity="0.55" stroke="#559038" stroke-width="1.25" stroke-linejoin="round"/>
<path d="M442.79,160.70 L446.29,166.70 L439.29,166.70 Z" fill="#cfe9b6" fill-opacity="0.55" stroke="#559038" stroke-width="1.25" stroke-linejoin="round"/>
<path d="M465.87,163.10 L469.37,169.10 L462.37,169.10 Z" fill="#cfe9b6" fill-opacity="0.55" stroke="#559038" stroke-width="1.25" stroke-linejoin="round"/>
<path d="M479.71,163.10 L483.21,169.10 L476.21,169.10 Z" fill="#cfe9b6" fill-opacity="0.55" stroke="#559038" stroke-width="1.25" stroke-linejoin="round"/>
<path d="M498.17,163.10 L501.67,169.10 L494.67,169.10 Z" fill="#cfe9b6" fill-opacity="0.55" stroke="#559038" stroke-width="1.25" stroke-linejoin="round"/>
<line x1="398.8" y1="28.2" x2="412" y2="28.2" stroke="#3f2563" stroke-width="1.5"/>
<rect x="403.10" y="25.90" width="4.60" height="4.60" fill="#52307f" stroke="#311c4c" stroke-width="0.8"/>
<text x="415.80" y="31.10" font-size="8.1" text-anchor="start" fill="#333" font-weight="normal" >IgG1 Control Ab 10 mg/kg</text>
<line x1="398.8" y1="40.8" x2="412" y2="40.8" stroke="#8b0e2d" stroke-width="1.5"/>
<path d="M405.40,43.50 L408.00,39.10 L402.80,39.10 Z" fill="#b3123a" stroke="#6b0a22" stroke-width="0.8" stroke-linejoin="round"/>
<text x="415.80" y="43.70" font-size="8.1" text-anchor="start" fill="#333" font-weight="normal" >PF-06747143 0.1 mg/kg</text>
<line x1="398.8" y1="53.6" x2="412" y2="53.6" stroke="#619ecf" stroke-width="1.5"/>
<path d="M405.40,51.00 L408.00,53.60 L405.40,56.20 L402.80,53.60 Z" fill="#6cb0e6" stroke="#40698a" stroke-width="0.8"/>
<text x="415.80" y="56.50" font-size="8.1" text-anchor="start" fill="#333" font-weight="normal" >PF-06747143 1 mg/kg</text>
<line x1="398.8" y1="66.2" x2="412" y2="66.2" stroke="#21375c" stroke-width="1.5"/>
<circle cx="405.40" cy="66.20" r="2.30" fill="#2b4777" stroke="#192a47" stroke-width="0.8"/>
<text x="415.80" y="69.10" font-size="8.1" text-anchor="start" fill="#333" font-weight="normal" >PF-06747143 10 mg/kg</text>
<line x1="398.8" y1="78.4" x2="412" y2="78.4" stroke="#559038" stroke-width="1.5" stroke-dasharray="2.2,1.6"/>
<path d="M405.40,74.80 L409.00,81.00 L401.80,81.00 Z" fill="#fff" fill-opacity="0.55" stroke="#559038" stroke-width="1.25" stroke-linejoin="round"/>
<text x="415.80" y="81.30" font-size="8.1" text-anchor="start" fill="#333" font-weight="normal" >PF-06747143 30 mg/kg</text>
<text x="8.10" y="248.80" font-size="12.2" text-anchor="start" fill="#000" font-weight="bold" stroke="#000" stroke-width="0.3">C</text>
<line x1="60.80" y1="257.30" x2="60.80" y2="405.00" stroke="#111" stroke-width="1.3" />
<line x1="60.20" y1="404.40" x2="246.50" y2="404.40" stroke="#111" stroke-width="1.3" />
<line x1="57.80" y1="404.40" x2="60.80" y2="404.40" stroke="#111" stroke-width="1.1" />
<text x="54.20" y="407.70" font-size="8.6" text-anchor="end" fill="#333" font-weight="normal" letter-spacing="0.4">-100</text>
<line x1="57.80" y1="380.40" x2="60.80" y2="380.40" stroke="#111" stroke-width="1.1" />
<text x="54.20" y="383.70" font-size="8.6" text-anchor="end" fill="#333" font-weight="normal" letter-spacing="0.4">100</text>
<line x1="57.80" y1="356.40" x2="60.80" y2="356.40" stroke="#111" stroke-width="1.1" />
<text x="54.20" y="359.70" font-size="8.6" text-anchor="end" fill="#333" font-weight="normal" letter-spacing="0.4">300</text>
<line x1="57.80" y1="332.40" x2="60.80" y2="332.40" stroke="#111" stroke-width="1.1" />
<text x="54.20" y="335.70" font-size="8.6" text-anchor="end" fill="#333" font-weight="normal" letter-spacing="0.4">500</text>
<line x1="57.80" y1="308.40" x2="60.80" y2="308.40" stroke="#111" stroke-width="1.1" />
<text x="54.20" y="311.70" font-size="8.6" text-anchor="end" fill="#333" font-weight="normal" letter-spacing="0.4">700</text>
<line x1="57.80" y1="284.40" x2="60.80" y2="284.40" stroke="#111" stroke-width="1.1" />
<text x="54.20" y="287.70" font-size="8.6" text-anchor="end" fill="#333" font-weight="normal" letter-spacing="0.4">900</text>
<line x1="57.80" y1="260.40" x2="60.80" y2="260.40" stroke="#111" stroke-width="1.1" />
<text x="54.20" y="263.70" font-size="8.6" text-anchor="end" fill="#333" font-weight="normal" letter-spacing="0.4">1100</text>
<line x1="60.80" y1="404.40" x2="60.80" y2="407.50" stroke="#111" stroke-width="1.1" />
<text x="60.80" y="419.20" font-size="8.5" text-anchor="middle" fill="#333" font-weight="normal" >0</text>
<line x1="73.00" y1="404.40" x2="73.00" y2="407.50" stroke="#111" stroke-width="1.1" />
<text x="73.00" y="419.20" font-size="8.5" text-anchor="middle" fill="#333" font-weight="normal" >1</text>
<line x1="85.20" y1="404.40" x2="85.20" y2="407.50" stroke="#111" stroke-width="1.1" />
<text x="85.20" y="419.20" font-size="8.5" text-anchor="middle" fill="#333" font-weight="normal" >2</text>
<line x1="97.40" y1="404.40" x2="97.40" y2="407.50" stroke="#111" stroke-width="1.1" />
<text x="97.40" y="419.20" font-size="8.5" text-anchor="middle" fill="#333" font-weight="normal" >3</text>
<line x1="109.60" y1="404.40" x2="109.60" y2="407.50" stroke="#111" stroke-width="1.1" />
<text x="109.60" y="419.20" font-size="8.5" text-anchor="middle" fill="#333" font-weight="normal" >4</text>
<line x1="121.80" y1="404.40" x2="121.80" y2="407.50" stroke="#111" stroke-width="1.1" />
<text x="121.80" y="419.20" font-size="8.5" text-anchor="middle" fill="#333" font-weight="normal" >5</text>
<line x1="134.00" y1="404.40" x2="134.00" y2="407.50" stroke="#111" stroke-width="1.1" />
<text x="134.00" y="419.20" font-size="8.5" text-anchor="middle" fill="#333" font-weight="normal" >6</text>
<line x1="146.20" y1="404.40" x2="146.20" y2="407.50" stroke="#111" stroke-width="1.1" />
<text x="146.20" y="419.20" font-size="8.5" text-anchor="middle" fill="#333" font-weight="normal" >7</text>
<line x1="158.40" y1="404.40" x2="158.40" y2="407.50" stroke="#111" stroke-width="1.1" />
<text x="158.40" y="419.20" font-size="8.5" text-anchor="middle" fill="#333" font-weight="normal" >8</text>
<line x1="170.60" y1="404.40" x2="170.60" y2="407.50" stroke="#111" stroke-width="1.1" />
<text x="170.60" y="419.20" font-size="8.5" text-anchor="middle" fill="#333" font-weight="normal" >9</text>
<line x1="182.80" y1="404.40" x2="182.80" y2="407.50" stroke="#111" stroke-width="1.1" />
<text x="182.80" y="419.20" font-size="8.5" text-anchor="middle" fill="#333" font-weight="normal" >10</text>
<line x1="195.00" y1="404.40" x2="195.00" y2="407.50" stroke="#111" stroke-width="1.1" />
<text x="195.00" y="419.20" font-size="8.5" text-anchor="middle" fill="#333" font-weight="normal" >11</text>
<line x1="207.20" y1="404.40" x2="207.20" y2="407.50" stroke="#111" stroke-width="1.1" />
<text x="207.20" y="419.20" font-size="8.5" text-anchor="middle" fill="#333" font-weight="normal" >12</text>
<line x1="219.40" y1="404.40" x2="219.40" y2="407.50" stroke="#111" stroke-width="1.1" />
<text x="219.40" y="419.20" font-size="8.5" text-anchor="middle" fill="#333" font-weight="normal" >13</text>
<line x1="231.60" y1="404.40" x2="231.60" y2="407.50" stroke="#111" stroke-width="1.1" />
<text x="231.60" y="419.20" font-size="8.5" text-anchor="middle" fill="#333" font-weight="normal" >14</text>
<line x1="243.80" y1="404.40" x2="243.80" y2="407.50" stroke="#111" stroke-width="1.1" />
<text x="243.80" y="419.20" font-size="8.5" text-anchor="middle" fill="#333" font-weight="normal" >15</text>
<line x1="72.70" y1="426.90" x2="72.70" y2="435.40" stroke="#111" stroke-width="1.5" />
<path d="M72.70,422.90 L75.40,428.70 L70.00,428.70 Z" fill="#111"/>
<line x1="158.10" y1="426.90" x2="158.10" y2="435.40" stroke="#111" stroke-width="1.5" />
<path d="M158.10,422.90 L160.80,428.70 L155.40,428.70 Z" fill="#111"/>
<line x1="243.50" y1="426.90" x2="243.50" y2="435.40" stroke="#111" stroke-width="1.5" />
<path d="M243.50,422.90 L246.20,428.70 L240.80,428.70 Z" fill="#111"/>
<text x="107.00" y="447.80" font-size="10.3" text-anchor="start" fill="#111" font-weight="normal" textLength="93.5" lengthAdjust="spacingAndGlyphs" stroke="#1a1a1a" stroke-width="0.3">Days post-treatment initiation</text>
<text x="27.30" y="370.60" font-size="10.3" text-anchor="start" fill="#111" font-weight="normal" textLength="79" lengthAdjust="spacingAndGlyphs" transform="rotate(-90 27.30 370.60)" stroke="#1a1a1a" stroke-width="0.3">Tumor volume (% initial)</text>
<path d="M60.80,392.40 L109.60,371.52 L146.20,350.28 L182.80,306.60" fill="none" stroke="#371c55" stroke-width="1.8" stroke-linejoin="round"/>
<line x1="109.60" y1="373.20" x2="109.60" y2="369.84" stroke="#412165" stroke-width="1.1" />
<line x1="107.00" y1="369.84" x2="112.20" y2="369.84" stroke="#412165" stroke-width="1.1" />
<line x1="107.00" y1="373.20" x2="112.20" y2="373.20" stroke="#412165" stroke-width="1.1" />
<line x1="146.20" y1="354.00" x2="146.20" y2="346.20" stroke="#412165" stroke-width="1.1" />
<line x1="143.60" y1="346.20" x2="148.80" y2="346.20" stroke="#412165" stroke-width="1.1" />
<line x1="143.60" y1="354.00" x2="148.80" y2="354.00" stroke="#412165" stroke-width="1.1" />
<line x1="182.80" y1="315.60" x2="182.80" y2="298.20" stroke="#412165" stroke-width="1.1" />
<line x1="180.20" y1="298.20" x2="185.40" y2="298.20" stroke="#412165" stroke-width="1.1" />
<line x1="180.20" y1="315.60" x2="185.40" y2="315.60" stroke="#412165" stroke-width="1.1" />
<rect x="57.80" y="389.40" width="6.00" height="6.00" fill="#4d2777" stroke="#351b53" stroke-width="0.8"/>
<rect x="106.60" y="368.52" width="6.00" height="6.00" fill="#4d2777" stroke="#351b53" stroke-width="0.8"/>
<rect x="143.20" y="347.28" width="6.00" height="6.00" fill="#4d2777" stroke="#351b53" stroke-width="0.8"/>
<rect x="179.80" y="303.60" width="6.00" height="6.00" fill="#4d2777" stroke="#351b53" stroke-width="0.8"/>
<path d="M60.80,392.40 L109.60,370.44 L146.20,351.24 L182.80,311.16" fill="none" stroke="#371c55" stroke-width="1.8" stroke-linejoin="round"/>
<line x1="109.60" y1="372.60" x2="109.60" y2="368.40" stroke="#412165" stroke-width="1.1" />
<line x1="107.00" y1="368.40" x2="112.20" y2="368.40" stroke="#412165" stroke-width="1.1" />
<line x1="107.00" y1="372.60" x2="112.20" y2="372.60" stroke="#412165" stroke-width="1.1" />
<line x1="146.20" y1="355.20" x2="146.20" y2="347.40" stroke="#412165" stroke-width="1.1" />
<line x1="143.60" y1="347.40" x2="148.80" y2="347.40" stroke="#412165" stroke-width="1.1" />
<line x1="143.60" y1="355.20" x2="148.80" y2="355.20" stroke="#412165" stroke-width="1.1" />
<line x1="182.80" y1="324.00" x2="182.80" y2="298.80" stroke="#412165" stroke-width="1.1" />
<line x1="180.20" y1="298.80" x2="185.40" y2="298.80" stroke="#412165" stroke-width="1.1" />
<line x1="180.20" y1="324.00" x2="185.40" y2="324.00" stroke="#412165" stroke-width="1.1" />
<rect x="58.30" y="389.90" width="5.00" height="5.00" fill="#fff" stroke="#45236b" stroke-width="1.45"/>
<rect x="107.10" y="367.94" width="5.00" height="5.00" fill="#fff" stroke="#45236b" stroke-width="1.45"/>
<rect x="143.70" y="348.74" width="5.00" height="5.00" fill="#fff" stroke="#45236b" stroke-width="1.45"/>
<rect x="180.30" y="308.66" width="5.00" height="5.00" fill="#fff" stroke="#45236b" stroke-width="1.45"/>
<path d="M60.80,392.40 L109.60,375.00 L146.20,373.44 L182.80,367.32 L243.80,348.84" fill="none" stroke="#b07272" stroke-width="1.8" stroke-dasharray="4,2.2" stroke-linejoin="round"/>
<line x1="109.60" y1="376.80" x2="109.60" y2="373.20" stroke="#aa6e6e" stroke-width="1.1" />
<line x1="107.00" y1="373.20" x2="112.20" y2="373.20" stroke="#aa6e6e" stroke-width="1.1" />
<line x1="107.00" y1="376.80" x2="112.20" y2="376.80" stroke="#aa6e6e" stroke-width="1.1" />
<line x1="146.20" y1="375.60" x2="146.20" y2="371.40" stroke="#aa6e6e" stroke-width="1.1" />
<line x1="143.60" y1="371.40" x2="148.80" y2="371.40" stroke="#aa6e6e" stroke-width="1.1" />
<line x1="143.60" y1="375.60" x2="148.80" y2="375.60" stroke="#aa6e6e" stroke-width="1.1" />
<line x1="182.80" y1="369.60" x2="182.80" y2="364.80" stroke="#aa6e6e" stroke-width="1.1" />
<line x1="180.20" y1="364.80" x2="185.40" y2="364.80" stroke="#aa6e6e" stroke-width="1.1" />
<line x1="180.20" y1="369.60" x2="185.40" y2="369.60" stroke="#aa6e6e" stroke-width="1.1" />
<line x1="243.80" y1="351.60" x2="243.80" y2="346.20" stroke="#aa6e6e" stroke-width="1.1" />
<line x1="241.20" y1="346.20" x2="246.40" y2="346.20" stroke="#aa6e6e" stroke-width="1.1" />
<line x1="241.20" y1="351.60" x2="246.40" y2="351.60" stroke="#aa6e6e" stroke-width="1.1" />
<path d="M60.80,396.00 L64.40,389.80 L57.20,389.80 Z" fill="#fff" stroke="#b47575" stroke-width="1.25" stroke-linejoin="round"/>
<path d="M109.60,378.60 L113.20,372.40 L106.00,372.40 Z" fill="#fff" stroke="#b47575" stroke-width="1.25" stroke-linejoin="round"/>
<path d="M146.20,377.04 L149.80,370.84 L142.60,370.84 Z" fill="#fff" stroke="#b47575" stroke-width="1.25" stroke-linejoin="round"/>
<path d="M182.80,370.92 L186.40,364.72 L179.20,364.72 Z" fill="#fff" stroke="#b47575" stroke-width="1.25" stroke-linejoin="round"/>
<path d="M243.80,352.44 L247.40,346.24 L240.20,346.24 Z" fill="#fff" stroke="#b47575" stroke-width="1.25" stroke-linejoin="round"/>
<path d="M60.80,392.40 L109.60,383.52 L146.20,390.00 L182.80,388.80 L243.80,384.24" fill="none" stroke="#750e2b" stroke-width="1.8" stroke-linejoin="round"/>
<line x1="109.60" y1="385.20" x2="109.60" y2="381.84" stroke="#8a1133" stroke-width="1.1" />
<line x1="107.00" y1="381.84" x2="112.20" y2="381.84" stroke="#8a1133" stroke-width="1.1" />
<line x1="107.00" y1="385.20" x2="112.20" y2="385.20" stroke="#8a1133" stroke-width="1.1" />
<line x1="146.20" y1="394.20" x2="146.20" y2="385.80" stroke="#8a1133" stroke-width="1.1" />
<line x1="143.60" y1="385.80" x2="148.80" y2="385.80" stroke="#8a1133" stroke-width="1.1" />
<line x1="143.60" y1="394.20" x2="148.80" y2="394.20" stroke="#8a1133" stroke-width="1.1" />
<line x1="182.80" y1="392.40" x2="182.80" y2="384.24" stroke="#8a1133" stroke-width="1.1" />
<line x1="180.20" y1="384.24" x2="185.40" y2="384.24" stroke="#8a1133" stroke-width="1.1" />
<line x1="180.20" y1="392.40" x2="185.40" y2="392.40" stroke="#8a1133" stroke-width="1.1" />
<line x1="243.80" y1="391.20" x2="243.80" y2="377.40" stroke="#8a1133" stroke-width="1.1" />
<line x1="241.20" y1="377.40" x2="246.40" y2="377.40" stroke="#8a1133" stroke-width="1.1" />
<line x1="241.20" y1="391.20" x2="246.40" y2="391.20" stroke="#8a1133" stroke-width="1.1" />
<path d="M60.80,395.80 L64.10,390.00 L57.50,390.00 Z" fill="#a3143c" stroke="#720e2a" stroke-width="0.8" stroke-linejoin="round"/>
<path d="M109.60,386.92 L112.90,381.12 L106.30,381.12 Z" fill="#a3143c" stroke="#720e2a" stroke-width="0.8" stroke-linejoin="round"/>
<path d="M146.20,393.40 L149.50,387.60 L142.90,387.60 Z" fill="#a3143c" stroke="#720e2a" stroke-width="0.8" stroke-linejoin="round"/>
<path d="M182.80,392.20 L186.10,386.40 L179.50,386.40 Z" fill="#a3143c" stroke="#720e2a" stroke-width="0.8" stroke-linejoin="round"/>
<path d="M243.80,387.64 L247.10,381.84 L240.50,381.84 Z" fill="#a3143c" stroke="#720e2a" stroke-width="0.8" stroke-linejoin="round"/>
<path d="M60.80,392.40 L109.60,375.96 L146.20,362.28 L182.80,341.16 L243.80,314.88" fill="none" stroke="#dcb880" stroke-width="1.8" stroke-dasharray="1.8,1.8" stroke-linejoin="round"/>
<line x1="109.60" y1="378.00" x2="109.60" y2="373.80" stroke="#ccaa77" stroke-width="1.1" />
<line x1="107.00" y1="373.80" x2="112.20" y2="373.80" stroke="#ccaa77" stroke-width="1.1" />
<line x1="107.00" y1="378.00" x2="112.20" y2="378.00" stroke="#ccaa77" stroke-width="1.1" />
<line x1="146.20" y1="365.40" x2="146.20" y2="359.40" stroke="#ccaa77" stroke-width="1.1" />
<line x1="143.60" y1="359.40" x2="148.80" y2="359.40" stroke="#ccaa77" stroke-width="1.1" />
<line x1="143.60" y1="365.40" x2="148.80" y2="365.40" stroke="#ccaa77" stroke-width="1.1" />
<line x1="182.80" y1="351.00" x2="182.80" y2="331.20" stroke="#ccaa77" stroke-width="1.1" />
<line x1="180.20" y1="331.20" x2="185.40" y2="331.20" stroke="#ccaa77" stroke-width="1.1" />
<line x1="180.20" y1="351.00" x2="185.40" y2="351.00" stroke="#ccaa77" stroke-width="1.1" />
<line x1="243.80" y1="327.60" x2="243.80" y2="302.40" stroke="#ccaa77" stroke-width="1.1" />
<line x1="241.20" y1="302.40" x2="246.40" y2="302.40" stroke="#ccaa77" stroke-width="1.1" />
<line x1="241.20" y1="327.60" x2="246.40" y2="327.60" stroke="#ccaa77" stroke-width="1.1" />
<circle cx="60.80" cy="392.40" r="2.60" fill="#fff" stroke="#d8b47e" stroke-width="1.25"/>
<circle cx="109.60" cy="375.96" r="2.60" fill="#fff" stroke="#d8b47e" stroke-width="1.25"/>
<circle cx="146.20" cy="362.28" r="2.60" fill="#fff" stroke="#d8b47e" stroke-width="1.25"/>
<circle cx="182.80" cy="341.16" r="2.60" fill="#fff" stroke="#d8b47e" stroke-width="1.25"/>
<circle cx="243.80" cy="314.88" r="2.60" fill="#fff" stroke="#d8b47e" stroke-width="1.25"/>
<path d="M60.80,392.40 L109.60,384.72 L146.20,384.72 L182.80,368.52 L243.80,355.80" fill="none" stroke="#d18e23" stroke-width="1.8" stroke-linejoin="round"/>
<line x1="109.60" y1="386.40" x2="109.60" y2="383.04" stroke="#c18321" stroke-width="1.1" />
<line x1="107.00" y1="383.04" x2="112.20" y2="383.04" stroke="#c18321" stroke-width="1.1" />
<line x1="107.00" y1="386.40" x2="112.20" y2="386.40" stroke="#c18321" stroke-width="1.1" />
<line x1="146.20" y1="386.40" x2="146.20" y2="383.04" stroke="#c18321" stroke-width="1.1" />
<line x1="143.60" y1="383.04" x2="148.80" y2="383.04" stroke="#c18321" stroke-width="1.1" />
<line x1="143.60" y1="386.40" x2="148.80" y2="386.40" stroke="#c18321" stroke-width="1.1" />
<line x1="182.80" y1="372.00" x2="182.80" y2="364.80" stroke="#c18321" stroke-width="1.1" />
<line x1="180.20" y1="364.80" x2="185.40" y2="364.80" stroke="#c18321" stroke-width="1.1" />
<line x1="180.20" y1="372.00" x2="185.40" y2="372.00" stroke="#c18321" stroke-width="1.1" />
<line x1="243.80" y1="360.00" x2="243.80" y2="351.60" stroke="#c18321" stroke-width="1.1" />
<line x1="241.20" y1="351.60" x2="246.40" y2="351.60" stroke="#c18321" stroke-width="1.1" />
<line x1="241.20" y1="360.00" x2="246.40" y2="360.00" stroke="#c18321" stroke-width="1.1" />
<circle cx="60.80" cy="392.40" r="3.00" fill="#e49b27" stroke="#9f6c1b" stroke-width="0.8"/>
<circle cx="109.60" cy="384.72" r="3.00" fill="#e49b27" stroke="#9f6c1b" stroke-width="0.8"/>
<circle cx="146.20" cy="384.72" r="3.00" fill="#e49b27" stroke="#9f6c1b" stroke-width="0.8"/>
<circle cx="182.80" cy="368.52" r="3.00" fill="#e49b27" stroke="#9f6c1b" stroke-width="0.8"/>
<circle cx="243.80" cy="355.80" r="3.00" fill="#e49b27" stroke="#9f6c1b" stroke-width="0.8"/>
<line x1="64.7" y1="263.1" x2="77.3" y2="263.1" stroke="#3c1e5c" stroke-width="1.5"/>
<rect x="68.50" y="260.60" width="5.00" height="5.00" fill="#4d2777" stroke="#2e1747" stroke-width="0.8"/>
<text x="81.20" y="266.00" font-size="8.1" text-anchor="start" fill="#333" font-weight="normal" >IgG1 Control Ab</text>
<line x1="64.7" y1="275.6" x2="77.3" y2="275.6" stroke="#3c1e5c" stroke-width="1.5"/>
<rect x="68.60" y="273.20" width="4.80" height="4.80" fill="#fff" stroke="#45236b" stroke-width="1.45"/>
<text x="81.20" y="278.50" font-size="8.1" text-anchor="start" fill="#333" font-weight="normal" >IgG4 Control Ab</text>
<line x1="64.7" y1="288.2" x2="77.3" y2="288.2" stroke="#b47575" stroke-width="1.5"/>
<path d="M71.00,291.70 L74.50,285.70 L67.50,285.70 Z" fill="#fff" stroke="#b47575" stroke-width="1.25" stroke-linejoin="round"/>
<text x="81.20" y="291.10" font-size="8.1" text-anchor="start" fill="#333" font-weight="normal" >m15-IgG1 (1mg/kg)</text>
<line x1="64.7" y1="300.6" x2="77.3" y2="300.6" stroke="#7a0f2d" stroke-width="1.5"/>
<path d="M71.00,303.60 L73.90,298.60 L68.10,298.60 Z" fill="#a3143c" stroke="#610c24" stroke-width="0.8" stroke-linejoin="round"/>
<text x="81.20" y="303.50" font-size="8.1" text-anchor="start" fill="#333" font-weight="normal" >m15-IgG1 (10mg/kg)</text>
<line x1="64.7" y1="313.0" x2="77.3" y2="313.0" stroke="#e8c287" stroke-width="1.5"/>
<circle cx="71.00" cy="313.00" r="2.50" fill="#fff" stroke="#d8b47e" stroke-width="1.25"/>
<text x="81.20" y="315.90" font-size="8.1" text-anchor="start" fill="#333" font-weight="normal" >m15-IgG4 (1mg/kg)</text>
<line x1="64.7" y1="325.2" x2="77.3" y2="325.2" stroke="#d18e23" stroke-width="1.5"/>
<circle cx="71.00" cy="325.20" r="2.60" fill="#e49b27" stroke="#885d17" stroke-width="0.8"/>
<text x="81.20" y="328.10" font-size="8.1" text-anchor="start" fill="#333" font-weight="normal" >m15-IgG4 (10mg/kg)</text>
<text x="265.50" y="249.00" font-size="12.2" text-anchor="start" fill="#000" font-weight="bold" stroke="#000" stroke-width="0.3">D</text>
<line x1="322.80" y1="257.00" x2="322.80" y2="404.20" stroke="#111" stroke-width="1.3" />
<line x1="322.20" y1="403.60" x2="506.20" y2="403.60" stroke="#111" stroke-width="1.3" />
<line x1="319.60" y1="260.20" x2="322.80" y2="260.20" stroke="#111" stroke-width="1.1" />
<text x="316.20" y="263.20" font-size="8.3" text-anchor="end" fill="#333" font-weight="normal" >1</text>
<line x1="321.00" y1="293.82" x2="322.80" y2="293.82" stroke="#111" stroke-width="0.8" />
<line x1="321.00" y1="285.35" x2="322.80" y2="285.35" stroke="#111" stroke-width="0.8" />
<line x1="321.00" y1="279.34" x2="322.80" y2="279.34" stroke="#111" stroke-width="0.8" />
<line x1="321.00" y1="274.68" x2="322.80" y2="274.68" stroke="#111" stroke-width="0.8" />
<line x1="321.00" y1="270.87" x2="322.80" y2="270.87" stroke="#111" stroke-width="0.8" />
<line x1="321.00" y1="267.65" x2="322.80" y2="267.65" stroke="#111" stroke-width="0.8" />
<line x1="321.00" y1="264.86" x2="322.80" y2="264.86" stroke="#111" stroke-width="0.8" />
<line x1="321.00" y1="262.40" x2="322.80" y2="262.40" stroke="#111" stroke-width="0.8" />
<line x1="319.60" y1="308.30" x2="322.80" y2="308.30" stroke="#111" stroke-width="1.1" />
<text x="316.20" y="311.30" font-size="8.3" text-anchor="end" fill="#333" font-weight="normal" >0.1</text>
<line x1="321.00" y1="341.92" x2="322.80" y2="341.92" stroke="#111" stroke-width="0.8" />
<line x1="321.00" y1="333.45" x2="322.80" y2="333.45" stroke="#111" stroke-width="0.8" />
<line x1="321.00" y1="327.44" x2="322.80" y2="327.44" stroke="#111" stroke-width="0.8" />
<line x1="321.00" y1="322.78" x2="322.80" y2="322.78" stroke="#111" stroke-width="0.8" />
<line x1="321.00" y1="318.97" x2="322.80" y2="318.97" stroke="#111" stroke-width="0.8" />
<line x1="321.00" y1="315.75" x2="322.80" y2="315.75" stroke="#111" stroke-width="0.8" />
<line x1="321.00" y1="312.96" x2="322.80" y2="312.96" stroke="#111" stroke-width="0.8" />
<line x1="321.00" y1="310.50" x2="322.80" y2="310.50" stroke="#111" stroke-width="0.8" />
<line x1="319.60" y1="356.40" x2="322.80" y2="356.40" stroke="#111" stroke-width="1.1" />
<text x="316.20" y="359.40" font-size="8.3" text-anchor="end" fill="#333" font-weight="normal" >0.01</text>
<line x1="321.00" y1="390.02" x2="322.80" y2="390.02" stroke="#111" stroke-width="0.8" />
<line x1="321.00" y1="381.55" x2="322.80" y2="381.55" stroke="#111" stroke-width="0.8" />
<line x1="321.00" y1="375.54" x2="322.80" y2="375.54" stroke="#111" stroke-width="0.8" />
<line x1="321.00" y1="370.88" x2="322.80" y2="370.88" stroke="#111" stroke-width="0.8" />
<line x1="321.00" y1="367.07" x2="322.80" y2="367.07" stroke="#111" stroke-width="0.8" />
<line x1="321.00" y1="363.85" x2="322.80" y2="363.85" stroke="#111" stroke-width="0.8" />
<line x1="321.00" y1="361.06" x2="322.80" y2="361.06" stroke="#111" stroke-width="0.8" />
<line x1="321.00" y1="358.60" x2="322.80" y2="358.60" stroke="#111" stroke-width="0.8" />
<line x1="319.60" y1="404.50" x2="322.80" y2="404.50" stroke="#111" stroke-width="1.1" />
<text x="316.20" y="407.50" font-size="8.3" text-anchor="end" fill="#333" font-weight="normal" >0.001</text>
<rect x="340.2" y="318.97" width="22.5" height="84.63" fill="#a50c34"/>
<line x1="351.45" y1="318.97" x2="351.45" y2="316.36" stroke="#a50c34" stroke-width="1.1" />
<line x1="345.95" y1="316.36" x2="356.95" y2="316.36" stroke="#a50c34" stroke-width="1.1" />
<rect x="374.2" y="316.98" width="22.600000000000023" height="86.62" fill="#e2961f"/>
<line x1="385.50" y1="316.98" x2="385.50" y2="315.75" stroke="#e2961f" stroke-width="1.1" />
<line x1="380.00" y1="315.75" x2="391.00" y2="315.75" stroke="#e2961f" stroke-width="1.1" />
<rect x="431.6" y="265.66" width="22.799999999999955" height="137.94" fill="#a50c34"/>
<line x1="443.00" y1="265.66" x2="443.00" y2="263.84" stroke="#a50c34" stroke-width="1.1" />
<line x1="437.50" y1="263.84" x2="448.50" y2="263.84" stroke="#a50c34" stroke-width="1.1" />
<rect x="466.2" y="265.80" width="22.69999999999999" height="137.80" fill="#e2961f"/>
<line x1="477.55" y1="265.80" x2="477.55" y2="264.09" stroke="#e2961f" stroke-width="1.1" />
<line x1="472.05" y1="264.09" x2="483.05" y2="264.09" stroke="#e2961f" stroke-width="1.1" />
<line x1="368.50" y1="403.60" x2="368.50" y2="406.80" stroke="#111" stroke-width="1.1" />
<line x1="460.50" y1="403.60" x2="460.50" y2="406.80" stroke="#111" stroke-width="1.1" />
<text x="368.50" y="419.40" font-size="8.5" text-anchor="middle" fill="#333" font-weight="normal" >1 mg/kg</text>
<text x="460.30" y="419.40" font-size="8.5" text-anchor="middle" fill="#333" font-weight="normal" >10 mg/kg</text>
<text x="392.30" y="432.80" font-size="10.3" text-anchor="start" fill="#111" font-weight="normal" textLength="43.8" lengthAdjust="spacingAndGlyphs" stroke="#1a1a1a" stroke-width="0.4">Antibody dose</text>
<text x="287.70" y="377.40" font-size="10.3" text-anchor="start" fill="#111" font-weight="normal" textLength="93.2" lengthAdjust="spacingAndGlyphs" transform="rotate(-90 287.70 377.40)" stroke="#1a1a1a" stroke-width="0.3">Antibody concentration (µM)</text>
<rect x="336.3" y="260.8" width="13.3" height="7.2" fill="#a50c34"/>
<rect x="336.3" y="273.2" width="13.3" height="7.2" fill="#e2961f"/>
<text x="353.00" y="267.40" font-size="8.0" text-anchor="start" fill="#333" font-weight="normal" >m15-IgG1</text>
<text x="353.00" y="279.90" font-size="8.0" text-anchor="start" fill="#333" font-weight="normal" >m15-IgG4</text>
<text x="8.30" y="478.00" font-size="12.2" text-anchor="start" fill="#000" font-weight="bold" stroke="#000" stroke-width="0.3">E</text>
<text x="58.80" y="490.50" font-size="8.0" text-anchor="middle" fill="#333" font-weight="normal" >Control</text>
<text x="96.30" y="490.50" font-size="8.0" text-anchor="middle" fill="#333" font-weight="normal" >m15-IgG1</text>
<text x="138.40" y="490.50" font-size="8.0" text-anchor="middle" fill="#333" font-weight="normal" >Control</text>
<text x="176.30" y="490.50" font-size="8.0" text-anchor="middle" fill="#333" font-weight="normal" >m15-IgG4</text>
<text x="25.80" y="528.20" font-size="8.4" text-anchor="middle" fill="#333" font-weight="normal" transform="rotate(-90 25.80 528.20)" >Cleaved</text>
<text x="35.90" y="528.20" font-size="8.4" text-anchor="middle" fill="#333" font-weight="normal" transform="rotate(-90 35.90 528.20)" >Caspase 3</text>
<text x="203.00" y="518.90" font-size="8.6" text-anchor="start" fill="#333" font-weight="normal" >48hr</text>
<text x="203.00" y="547.10" font-size="8.6" text-anchor="start" fill="#333" font-weight="normal" >72hr</text>
<defs><filter id="bl" x="-50%" y="-100%" width="200%" height="300%"><feGaussianBlur stdDeviation="1.0 0.8"/></filter><filter id="bl2" x="-50%" y="-100%" width="200%" height="300%"><feGaussianBlur stdDeviation="1.4"/></filter></defs>
<rect x="43.3" y="498.3" width="154.2" height="59.4" fill="#e9e9e9"/>
<rect x="47.50" y="518.10" width="8.00" height="2.60" rx="1.00" fill="rgb(182,182,182)" filter="url(#bl)"/>
<rect x="48.00" y="514.40" width="7.00" height="2.20" rx="0.85" fill="rgb(219,219,219)" filter="url(#bl)"/>
<rect x="59.55" y="517.90" width="8.50" height="2.60" rx="1.00" fill="rgb(168,168,168)" filter="url(#bl)"/>
<rect x="59.80" y="513.80" width="8.00" height="2.40" rx="0.92" fill="rgb(198,198,198)" filter="url(#bl)"/>
<rect x="71.05" y="518.10" width="5.50" height="2.60" rx="1.00" fill="rgb(186,186,186)" filter="url(#bl)"/>
<rect x="71.30" y="514.40" width="5.00" height="2.20" rx="0.85" fill="rgb(219,219,219)" filter="url(#bl)"/>
<rect x="82.75" y="510.90" width="9.50" height="3.40" rx="1.31" fill="rgb(93,93,93)" filter="url(#bl)"/>
<rect x="82.75" y="516.60" width="9.50" height="2.80" rx="1.08" fill="rgb(151,151,151)" filter="url(#bl)"/>
<rect x="94.25" y="510.20" width="10.50" height="4.60" rx="1.77" fill="rgb(0,0,0)" filter="url(#bl)"/>
<rect x="94.50" y="517.00" width="10.00" height="3.20" rx="1.23" fill="rgb(128,128,128)" filter="url(#bl)"/>
<rect x="107.05" y="511.00" width="8.50" height="3.20" rx="1.23" fill="rgb(105,105,105)" filter="url(#bl)"/>
<rect x="107.05" y="517.20" width="8.50" height="2.80" rx="1.08" fill="rgb(168,168,168)" filter="url(#bl)"/>
<rect x="118.10" y="511.00" width="2.60" height="3.60" rx="1.00" fill="rgb(0,0,0)" filter="url(#bl)"/>
<rect x="47.50" y="545.70" width="8.00" height="2.80" rx="1.08" fill="rgb(175,175,175)" filter="url(#bl)"/>
<rect x="48.00" y="541.60" width="7.00" height="2.40" rx="0.92" fill="rgb(214,214,214)" filter="url(#bl)"/>
<rect x="59.55" y="545.70" width="8.50" height="2.80" rx="1.08" fill="rgb(163,163,163)" filter="url(#bl)"/>
<rect x="59.55" y="541.40" width="8.50" height="2.80" rx="1.08" fill="rgb(151,151,151)" filter="url(#bl)"/>
<rect x="71.05" y="546.20" width="5.50" height="2.80" rx="1.08" fill="rgb(175,175,175)" filter="url(#bl)"/>
<rect x="71.30" y="541.90" width="5.00" height="2.20" rx="0.85" fill="rgb(221,221,221)" filter="url(#bl)"/>
<rect x="82.35" y="546.10" width="9.50" height="5.00" rx="1.92" fill="rgb(93,93,93)" filter="url(#bl)"/>
<rect x="82.10" y="540.30" width="10.00" height="6.00" rx="2.31" fill="rgb(0,0,0)" filter="url(#bl)"/>
<rect x="93.85" y="548.30" width="10.50" height="3.40" rx="1.31" fill="rgb(58,58,58)" filter="url(#bl)"/>
<rect x="93.60" y="540.40" width="11.00" height="10.40" rx="4.00" fill="rgb(0,0,0)" filter="url(#bl)"/>
<rect x="106.70" y="545.60" width="9.00" height="4.00" rx="1.54" fill="rgb(158,158,158)" filter="url(#bl)"/>
<rect x="106.45" y="541.60" width="9.50" height="4.00" rx="1.54" fill="rgb(0,0,0)" filter="url(#bl)"/>
<rect x="122.50" y="515.50" width="8.00" height="2.60" rx="1.00" fill="rgb(186,186,186)" filter="url(#bl)"/>
<rect x="123.00" y="511.40" width="7.00" height="2.20" rx="0.85" fill="rgb(219,219,219)" filter="url(#bl)"/>
<rect x="134.00" y="516.20" width="10.00" height="2.60" rx="1.00" fill="rgb(196,196,196)" filter="url(#bl)"/>
<rect x="146.45" y="516.30" width="7.50" height="2.60" rx="1.00" fill="rgb(172,172,172)" filter="url(#bl)"/>
<rect x="146.70" y="511.90" width="7.00" height="2.20" rx="0.85" fill="rgb(214,214,214)" filter="url(#bl)"/>
<rect x="159.50" y="509.70" width="11.00" height="4.60" rx="1.77" fill="rgb(0,0,0)" filter="url(#bl)"/>
<rect x="159.75" y="516.10" width="10.50" height="3.00" rx="1.15" fill="rgb(116,116,116)" filter="url(#bl)"/>
<rect x="173.05" y="511.00" width="9.50" height="2.80" rx="1.08" fill="rgb(151,151,151)" filter="url(#bl)"/>
<rect x="173.05" y="516.20" width="9.50" height="2.80" rx="1.08" fill="rgb(158,158,158)" filter="url(#bl)"/>
<rect x="187.00" y="513.60" width="9.00" height="2.40" rx="0.92" fill="rgb(210,210,210)" filter="url(#bl)"/>
<rect x="187.00" y="517.50" width="9.00" height="2.80" rx="1.08" fill="rgb(163,163,163)" filter="url(#bl)"/>
<rect x="122.50" y="540.60" width="8.00" height="2.40" rx="0.92" fill="rgb(198,198,198)" filter="url(#bl)"/>
<rect x="122.50" y="544.70" width="8.00" height="2.80" rx="1.08" fill="rgb(163,163,163)" filter="url(#bl)"/>
<rect x="136.50" y="540.60" width="9.00" height="2.40" rx="0.92" fill="rgb(198,198,198)" filter="url(#bl)"/>
<rect x="136.25" y="544.70" width="9.50" height="2.80" rx="1.08" fill="rgb(163,163,163)" filter="url(#bl)"/>
<rect x="148.75" y="540.60" width="5.50" height="2.40" rx="0.92" fill="rgb(210,210,210)" filter="url(#bl)"/>
<rect x="148.75" y="544.90" width="5.50" height="2.80" rx="1.08" fill="rgb(163,163,163)" filter="url(#bl)"/>
<rect x="162.00" y="539.90" width="10.00" height="4.20" rx="1.62" fill="rgb(19,19,19)" filter="url(#bl)"/>
<rect x="162.00" y="545.50" width="10.00" height="3.00" rx="1.15" fill="rgb(128,128,128)" filter="url(#bl)"/>
<rect x="175.05" y="542.00" width="8.50" height="3.00" rx="1.15" fill="rgb(128,128,128)" filter="url(#bl)"/>
<rect x="175.05" y="545.80" width="8.50" height="3.00" rx="1.15" fill="rgb(140,140,140)" filter="url(#bl)"/>
<rect x="188.05" y="542.00" width="8.50" height="3.60" rx="1.38" fill="rgb(65,65,65)" filter="url(#bl)"/>
<rect x="188.05" y="546.30" width="8.50" height="3.00" rx="1.15" fill="rgb(140,140,140)" filter="url(#bl)"/>
<rect x="43.3" y="498.3" width="154.2" height="59.4" fill="none" stroke="#111" stroke-width="2"/>
<line x1="43.30" y1="528.00" x2="197.50" y2="528.00" stroke="#111" stroke-width="1.6" />
<line x1="120.50" y1="498.30" x2="120.50" y2="557.70" stroke="#111" stroke-width="1.3" />
<line x1="78.80" y1="499.20" x2="78.80" y2="557.00" stroke="#000" stroke-width="1.8" stroke-dasharray="1.6,1.5"/>
<line x1="156.00" y1="499.20" x2="156.00" y2="557.00" stroke="#000" stroke-width="1.8" stroke-dasharray="1.6,1.5"/>
<rect x="0.75" y="0.75" width="518.5" height="565.5" fill="none" stroke="#000" stroke-width="1.5"/></svg>
</body></html>
